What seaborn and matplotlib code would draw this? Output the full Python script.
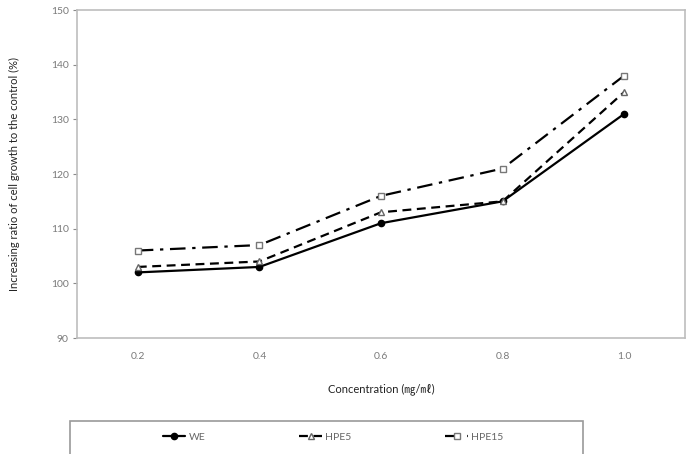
import matplotlib
matplotlib.use("Agg")
import matplotlib.pyplot as plt
from matplotlib.patches import Rectangle
import seaborn as sns
import pandas as pd

concentrations = ["0.2", "0.4", "0.6", "0.8", "1.0"]
we = [102, 103, 111, 115, 131]
hpe5 = [103, 104, 113, 115, 135]
hpe15 = [106, 107, 116, 121, 138]
series_names = ["WE", "HPE5", "HPE15"]
y_ticks = [90, 100, 110, 120, 130, 140, 150]

sns.set_theme(style="white")
plt.rcParams["font.family"] = ["Lato", "Noto Sans CJK KR", "DejaVu Sans"]

df = pd.DataFrame({
    "conc": concentrations * 3,
    "value": we + hpe5 + hpe15,
    "series": [s for s in series_names for _ in concentrations],
})

fig = plt.figure(figsize=(6.95, 4.54), dpi=100)
ax = fig.add_axes([77 / 695, 1 - 338 / 454, 608 / 695, 328 / 454])

styles = {
    "WE": dict(marker="o", linestyle="-", mfc="black", mec="black", ms=4.5),
    "HPE5": dict(marker="^", linestyle=(0, (4, 2.5)), mfc="white", mec="#666666", ms=4.5),
    "HPE15": dict(marker="s", linestyle=(0, (7, 3, 1.5, 3)), mfc="white", mec="#777777", ms=4.5),
}
for name in series_names:
    sub = df[df["series"] == name]
    st = styles[name]
    sns.lineplot(data=sub, x="conc", y="value", ax=ax, color="black", lw=1.6,
                 marker=st["marker"], linestyle=st["linestyle"],
                 markerfacecolor=st["mfc"], markeredgecolor=st["mec"],
                 markersize=st["ms"], markeredgewidth=1.0, label=name, legend=False)

ax.set_xlim(-0.5, 4.5)
ax.set_ylim(90, 150)
ax.set_yticks(y_ticks)
ax.tick_params(axis="y", labelsize=7.5, colors="#8a8a8a", length=3, width=0.8, direction="out", left=True, pad=3)
ax.tick_params(axis="x", labelsize=7.5, colors="#8a8a8a", length=0, pad=10)
for lab in ax.get_xticklabels() + ax.get_yticklabels():
    lab.set_color("#7a7a7a")
for sp in ax.spines.values():
    sp.set_color("#bdbdbd")
    sp.set_linewidth(1.2)

ax.set_xlabel("Concentration (㎎/㎖)", fontsize=8, color="#222222", labelpad=16)
ax.set_ylabel("Increasing ratio of cell growth to the control (%)", fontsize=8,
              color="#222222", labelpad=22)

handles = ax.get_lines()[:3]
leg = fig.legend(handles, series_names, loc="center", ncol=3, frameon=False,
                 bbox_to_anchor=(333 / 695, 1 - 437 / 454), fontsize=7.5,
                 handlelength=2.2, handletextpad=0.3, columnspacing=9.0)
for t in leg.get_texts():
    t.set_color("#666666")

fig.patches.append(Rectangle((70 / 695, -0.05), 513 / 695, 0.05 + 1 - 421 / 454,
                             transform=fig.transFigure, fill=False,
                             edgecolor="#9a9a9a", linewidth=1.2, clip_on=False))

fig.savefig("out.png", dpi=100)
